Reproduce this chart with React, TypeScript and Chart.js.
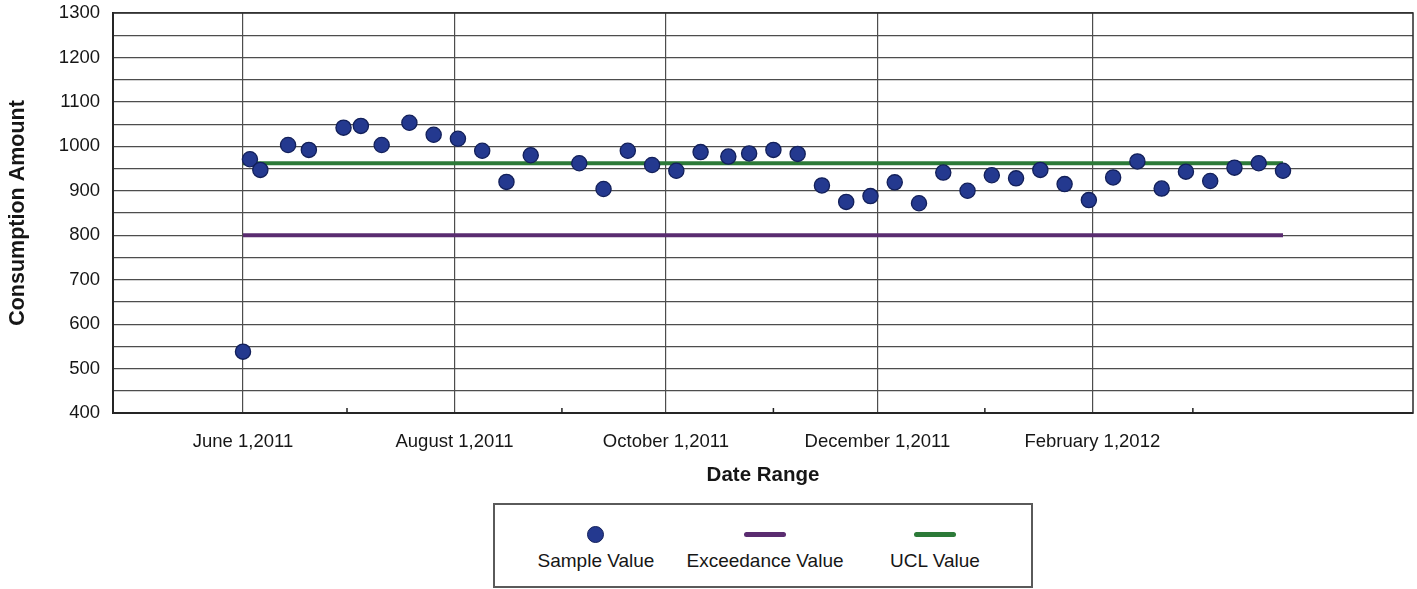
import React, { useEffect, useRef } from "react";
import { Chart, registerables } from "chart.js";

Chart.register(...registerables);

// ---- data ----
const SAMPLE_DATES = [
  "2011-06-01", "2011-06-03", "2011-06-06", "2011-06-14", "2011-06-20", "2011-06-30",
  "2011-07-05", "2011-07-11", "2011-07-19", "2011-07-26", "2011-08-02", "2011-08-09",
  "2011-08-16", "2011-08-23", "2011-09-06", "2011-09-13", "2011-09-20", "2011-09-27",
  "2011-10-04", "2011-10-11", "2011-10-19", "2011-10-25", "2011-11-01", "2011-11-08",
  "2011-11-15", "2011-11-22", "2011-11-29", "2011-12-06", "2011-12-13", "2011-12-20",
  "2011-12-27", "2012-01-03", "2012-01-10", "2012-01-17", "2012-01-24", "2012-01-31",
  "2012-02-07", "2012-02-14", "2012-02-21", "2012-02-28", "2012-03-06", "2012-03-13",
  "2012-03-20", "2012-03-27",
];
const SAMPLE_VALUES = [
  538, 971, 947, 1003, 992, 1042,
  1046, 1003, 1053, 1026, 1017, 990,
  920, 980, 962, 904, 990, 958,
  945, 987, 977, 984, 992, 983,
  912, 875, 888, 919, 872, 941,
  900, 935, 928, 947, 915, 879,
  930, 966, 905, 943, 922, 952,
  962, 945,
];
const EXCEEDANCE_VALUE = 800;
const UCL_VALUE = 962;

const TICK_DATES = ["2011-06-01", "2011-08-01", "2011-10-01", "2011-12-01", "2012-02-01"];
const TICK_LABELS = ["June 1,2011", "August 1,2011", "October 1,2011", "December 1,2011", "February 1,2012"];
const MINOR_TICK_DATES = ["2011-07-01", "2011-09-01", "2011-11-01", "2012-01-01", "2012-03-01"];
const X_MIN_DATE = "2011-04-24T12:00:00Z";
const X_MAX_DATE = "2012-05-03T12:00:00Z";

const Y_MIN = 400;
const Y_MAX = 1300;
const Y_STEP = 50;
const Y_LABEL_STEP = 100;

const LEGEND_LABELS = ["Sample Value", "Exceedance Value", "UCL Value"];

// ---- helpers ----
const toDay = (s: string) =>
  Date.parse(s.length === 10 ? s + "T00:00:00Z" : s) / 86400000;

const FONT = "'Liberation Sans', Arial, Helvetica, sans-serif";
const POINT_FILL = "#24398f";
const POINT_BORDER = "#13205a";
const GREEN = "#2c7a38";
const PURPLE = "#5a2c70";
const GRID = "#4d4d4d";
const TEXT = "#161616";

const majorDays = TICK_DATES.map(toDay);
const minorDays = MINOR_TICK_DATES.map(toDay);

const framePlugin = {
  id: "frameAndMinorTicks",
  beforeDatasetsDraw(chart: any) {
    const { ctx, chartArea } = chart;
    const xs = chart.scales.x;
    ctx.save();
    ctx.strokeStyle = "#2a2a2a";
    ctx.lineWidth = 1.5;
    ctx.strokeRect(chartArea.left, chartArea.top, chartArea.right - chartArea.left, chartArea.bottom - chartArea.top);
    ctx.lineWidth = 1.5;
    ctx.strokeStyle = "#222";
    minorDays.forEach((d) => {
      const px = xs.getPixelForValue(d);
      ctx.beginPath();
      ctx.moveTo(px, chartArea.bottom);
      ctx.lineTo(px, chartArea.bottom - 5);
      ctx.stroke();
    });
    ctx.restore();
  },
};

export default function App() {
  const ref = useRef<HTMLCanvasElement | null>(null);

  useEffect(() => {
    if (!ref.current) return;
    const sampleData = SAMPLE_DATES.map((d, i) => ({ x: toDay(d), y: SAMPLE_VALUES[i] }));
    const exceedData = SAMPLE_DATES.map((d) => ({ x: toDay(d), y: EXCEEDANCE_VALUE }));
    const uclData = SAMPLE_DATES.map((d) => ({ x: toDay(d), y: UCL_VALUE }));

    const chart = new Chart(ref.current, {
      type: "scatter",
      data: {
        datasets: [
          {
            label: LEGEND_LABELS[0],
            data: sampleData,
            pointRadius: 7.6,
            pointBackgroundColor: POINT_FILL,
            pointBorderColor: POINT_BORDER,
            pointBorderWidth: 1.3,
            showLine: false,
          },
          {
            label: LEGEND_LABELS[2],
            data: uclData,
            showLine: true,
            borderColor: GREEN,
            borderWidth: 4,
            pointRadius: 0,
            borderCapStyle: "butt",
          },
          {
            label: LEGEND_LABELS[1],
            data: exceedData,
            showLine: true,
            borderColor: PURPLE,
            borderWidth: 4,
            pointRadius: 0,
            borderCapStyle: "butt",
          },
        ],
      },
      options: {
        animation: false,
        responsive: false,
        maintainAspectRatio: false,
        layout: { autoPadding: false, padding: { top: 13, right: 4, bottom: 0, left: 0 } },
        plugins: {
          legend: { display: false },
          tooltip: { enabled: false },
        },
        scales: {
          x: {
            type: "linear",
            min: toDay(X_MIN_DATE),
            max: toDay(X_MAX_DATE),
            afterBuildTicks: (scale: any) => {
              const all = [...majorDays, ...minorDays].sort((a, b) => a - b);
              scale.ticks = all.map((v) => ({ value: v }));
            },
            afterFit: (scale: any) => {
              scale.height = 176;
              scale.paddingLeft = 0;
              scale.paddingRight = 0;
            },
            ticks: {
              autoSkip: false,
              maxRotation: 0,
              minRotation: 0,
              padding: 18,
              color: TEXT,
              font: { family: FONT, size: 18.5 },
              callback: (v: any) => {
                const idx = majorDays.findIndex((d) => Math.abs(d - Number(v)) < 0.01);
                return idx >= 0 ? TICK_LABELS[idx] : "";
              },
            },
            grid: {
              drawTicks: false,
              lineWidth: 1.2,
              color: (c: any) => {
                const v = c.tick ? c.tick.value : NaN;
                return majorDays.some((d) => Math.abs(d - v) < 0.01) ? GRID : "rgba(0,0,0,0)";
              },
            },
            border: { display: true, color: "#1a1a1a", width: 2 },
            title: {
              display: true,
              text: "Date Range",
              color: TEXT,
              font: { family: FONT, size: 20.5, weight: "bold" },
              padding: { top: 0, bottom: 101 },
            },
          },
          y: {
            type: "linear",
            min: Y_MIN,
            max: Y_MAX,
            afterFit: (scale: any) => {
              scale.width = 113;
              scale.paddingTop = 0;
              scale.paddingBottom = 0;
            },
            ticks: {
              stepSize: Y_STEP,
              autoSkip: false,
              padding: 13,
              color: TEXT,
              font: { family: FONT, size: 18.5 },
              callback: (v: any) => (Number(v) % Y_LABEL_STEP === 0 ? String(v) : ""),
            },
            grid: {
              drawTicks: false,
              color: GRID,
              lineWidth: 1.2,
            },
            border: { display: true, color: "#1a1a1a", width: 2 },
            title: {
              display: true,
              text: "Consumption Amount",
              color: TEXT,
              font: { family: FONT, size: 21.5, weight: "bold" },
              padding: { top: 5, bottom: 0 },
            },
          },
        },
      },
      plugins: [framePlugin],
    });
    return () => chart.destroy();
  }, []);

  const itemCenters = [101, 270, 440];
  const label = (text: string, left: number) => (
    <div
      style={{
        position: "absolute",
        left,
        top: 45,
        transform: "translateX(-50%)",
        whiteSpace: "nowrap",
        fontFamily: FONT,
        fontSize: 19,
        lineHeight: "22px",
        color: TEXT,
      }}
    >
      {text}
    </div>
  );

  return (
    <div style={{ position: "absolute", left: 0, top: 0, width: 1417, height: 589, background: "#fff" }}>
      <canvas ref={ref} width={1417} height={589} style={{ position: "absolute", left: 0, top: 0 }} />
      <div
        style={{
          position: "absolute",
          left: 493,
          top: 503,
          width: 540,
          height: 85,
          boxSizing: "border-box",
          border: "2px solid #5a5a5a",
          background: "#fff",
        }}
      >
        <div
          style={{
            position: "absolute",
            left: itemCenters[0] - 9,
            top: 21,
            width: 17,
            height: 17,
            borderRadius: "50%",
            background: POINT_FILL,
            boxSizing: "border-box",
            border: `1.3px solid ${POINT_BORDER}`,
          }}
        />
        <div
          style={{
            position: "absolute",
            left: itemCenters[1] - 21,
            top: 27,
            width: 42,
            height: 5,
            borderRadius: 3,
            background: PURPLE,
          }}
        />
        <div
          style={{
            position: "absolute",
            left: itemCenters[2] - 21,
            top: 27,
            width: 42,
            height: 5,
            borderRadius: 3,
            background: GREEN,
          }}
        />
        {label(LEGEND_LABELS[0], itemCenters[0])}
        {label(LEGEND_LABELS[1], itemCenters[1])}
        {label(LEGEND_LABELS[2], itemCenters[2])}
      </div>
    </div>
  );
}
